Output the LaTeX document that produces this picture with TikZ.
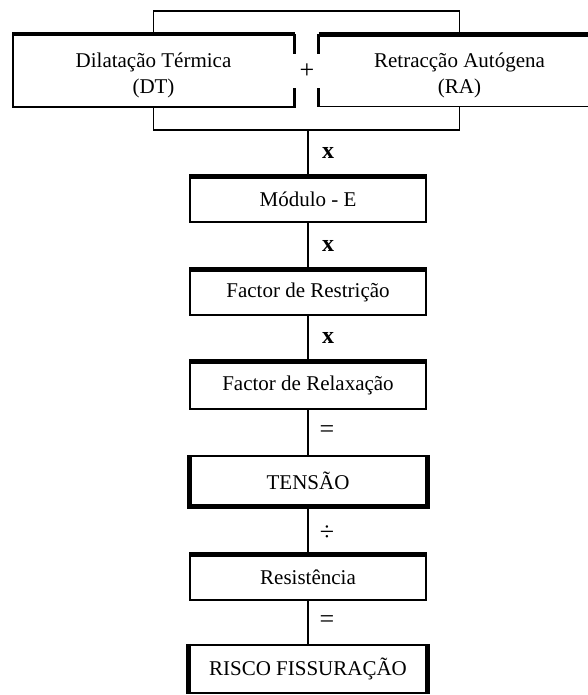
\documentclass[tikz,border=0pt]{standalone}
\usepackage{fontspec}
\setmainfont{Liberation Serif}
\usetikzlibrary{positioning,calc}
\newcommand\boxfont{\fontsize{21}{26}\selectfont}
\newcommand\opfont{\fontsize{26}{28}\selectfont}

\begin{document}
\begin{tikzpicture}[
  x=1pt,y=-1pt,
  plate/.style={draw,line width=1.5pt,fill=white,inner sep=0pt,
                minimum width=236pt,minimum height=45pt,font=\boxfont},
  wide/.style={plate,minimum width=281pt,minimum height=72pt},
  caption/.style={font=\boxfont,align=center,inner sep=0pt},
  topbar/.style={line width=4.5pt,line cap=butt},
  sidebar/.style={line width=5pt,line cap=butt},
  link/.style={line width=1.8pt},
  times/.style={font=\fontsize{24}{26}\selectfont\bfseries,inner sep=0pt},
  oper/.style={font=\opfont,inner sep=0pt}
]
\useasboundingbox (0,0) rectangle (588,695);
\clip (0,0) rectangle (588,695);

% the two sources
\node[wide] (dt) at (153.5,71) {};
\node[wide,line width=1pt] (ra) at (459.5,71) {};
\draw[topbar] (dt.north west) -- (dt.north east);
\draw[topbar] (ra.north west) -- (ra.north east);
\draw[line width=2.5pt] (dt.north east) -- (dt.south east);
\draw[line width=2.5pt] (ra.north west) -- (ra.south west);
\node[caption] (dtlab) at (153.5,75) {Dilatação Térmica\\(DT)};
\node[caption] (ralab) at (459.5,75) {Retracção Autógena\\(RA)};
\node[oper,fill=white,minimum width=28pt,minimum height=34pt] (plus) at (307,71) {+};

% bracket joining both
\coordinate (join) at (308,130);
\draw[link] (dt.north) -- ++(0,-23) -| (ra.north);
\draw[link] (dt.south) -- (dt.south |- join) -- (ra.south |- join) -- (ra.south);

% chain of factors
\node[plate] (mod)    at (308,199.5) {Módulo - E};
\node[plate] (restr)  at (308,292.5) {Factor de Restrição};
\node[plate,minimum height=47pt] (relax)  at (308,385.5) {Factor de Relaxação};
\node[plate,line width=2pt,minimum height=49pt] (tensao) at (308,480.5) {TENSÃO};
\node[plate] (resist) at (308,577.5) {Resistência};
\node[plate,line width=2.5pt,minimum height=48pt] (risco)  at (308,669) {RISCO FISSURAÇÃO};

\foreach \b in {mod,restr,relax,resist}
  \draw[topbar] (\b.north west) -- (\b.north east);
\draw[sidebar] (tensao.north west) -- (tensao.south west) -- (tensao.south east) -- (tensao.north east);
\draw[sidebar] (risco.north west) -- (risco.south west);
\draw[sidebar] (risco.north east) -- (risco.south east);

\draw[link] (join) -- (mod.north);
\draw[link] (mod) -- (restr);
\draw[link] (restr) -- (relax);
\draw[link] (relax) -- (tensao);
\draw[link] (tensao) -- (resist);
\draw[link] (resist) -- (risco);

% operators beside the links
\node[times] (x1) at (328,153) {x};
\node[times] (x2) at (328,246) {x};
\node[times] (x3) at (328,338) {x};
\node[oper]  (eq1) at (327,432) {=};
\node[oper]  (div) at (327,533) {÷};
\node[oper]  (eq2) at (327,622) {=};
\end{tikzpicture}
\end{document}
